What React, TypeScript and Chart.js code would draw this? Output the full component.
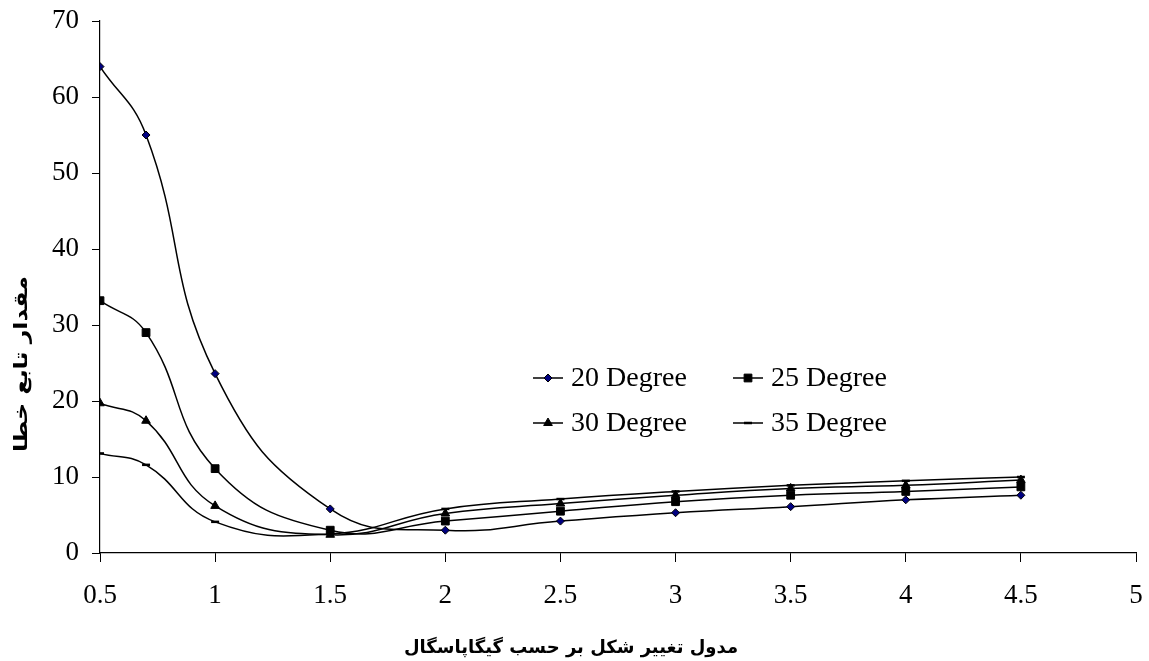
import React, { useEffect, useRef } from "react";
import { Chart, registerables } from "chart.js";

Chart.register(...registerables);

const xValues = [0.5, 0.7, 1, 1.5, 2, 2.5, 3, 3.5, 4, 4.5];
const deg20 = [64, 55, 23.6, 5.8, 3.0, 4.2, 5.3, 6.1, 7.0, 7.6];
const deg25 = [33.2, 29.0, 11.1, 3.0, 4.2, 5.5, 6.75, 7.6, 8.1, 8.7];
const deg30 = [19.7, 17.4, 6.2, 2.4, 5.2, 6.5, 7.6, 8.5, 8.9, 9.6];
const deg35 = [13.1, 11.6, 4.1, 2.5, 5.8, 7.1, 8.1, 8.9, 9.5, 10.0];
const seriesLabels = ["20 Degree", "25 Degree", "30 Degree", "35 Degree"];
const xTitle = "مدول تغییر شکل بر حسب گیگاپاسگال";
const yTitle = "مقدار تابع خطا";

const W = 1149;
const H = 661;
const SERIF = "'Liberation Serif', 'Times New Roman', serif";
const ARABIC = "'DejaVu Sans', sans-serif";

const pointStyles: any[] = ["rectRot", "rect", "triangle", "line"];
const pointColors = ["#000080", "#000000", "#000000", "#000000"];
const pointRadii = [4, 5.5, 5, 4];
const pointBorders = [1, 1, 1, 2.5];

function toPts(ys: number[]) {
  return xValues.map((x, i) => ({ x, y: ys[i] }));
}

function drawMarker(ctx: any, style: string, r: number, x: number, y: number, bw: number, fill: string) {
  ctx.save();
  ctx.fillStyle = fill;
  ctx.strokeStyle = "#000";
  ctx.lineWidth = bw;
  ctx.beginPath();
  if (style === "rectRot") {
    ctx.moveTo(x - r, y);
    ctx.lineTo(x, y - r);
    ctx.lineTo(x + r, y);
    ctx.lineTo(x, y + r);
    ctx.closePath();
    ctx.fill();
    ctx.stroke();
  } else if (style === "rect") {
    const s = Math.SQRT1_2 * r;
    ctx.rect(x - s, y - s, 2 * s, 2 * s);
    ctx.fill();
    ctx.stroke();
  } else if (style === "triangle") {
    const half = (r * Math.sqrt(3)) / 2;
    ctx.moveTo(x, y - r);
    ctx.lineTo(x + half, y + r / 2);
    ctx.lineTo(x - half, y + r / 2);
    ctx.closePath();
    ctx.fill();
    ctx.stroke();
  } else {
    ctx.moveTo(x - r, y);
    ctx.lineTo(x + r, y);
    ctx.stroke();
  }
  ctx.restore();
}

const overlayPlugin = {
  id: "overlay",
  afterDraw(chart: any) {
    const ctx = chart.ctx;
    ctx.save();
    ctx.fillStyle = "#000";
    ctx.textAlign = "center";
    ctx.textBaseline = "middle";
    ctx.direction = "rtl";
    ctx.font = `bold 18px ${ARABIC}`;
    ctx.fillText(xTitle, 571, 648);
    ctx.save();
    ctx.translate(22, 364);
    ctx.rotate(-Math.PI / 2);
    ctx.scale(1.25, 1);
    ctx.font = `bold 19px ${ARABIC}`;
    ctx.fillText(yTitle, 0, 0);
    ctx.restore();
    ctx.direction = "ltr";

    const cols = [533, 733];
    const rows = [378, 423];
    ctx.font = `28px ${SERIF}`;
    ctx.textAlign = "left";
    ctx.textBaseline = "middle";
    chart.data.datasets.forEach((ds: any, i: number) => {
      const lx = cols[i % 2];
      const ly = rows[Math.floor(i / 2)];
      ctx.strokeStyle = "#000";
      ctx.lineWidth = 1.5;
      ctx.beginPath();
      ctx.moveTo(lx, ly);
      ctx.lineTo(lx + 30, ly);
      ctx.stroke();
      drawMarker(ctx, pointStyles[i], pointRadii[i], lx + 15, ly, pointBorders[i], pointColors[i]);
      ctx.fillStyle = "#000";
      ctx.fillText(ds.label, lx + 38, ly + 1);
    });
    ctx.restore();
  },
};

const fmt = (v: any) => String(Number(Number(v).toFixed(1)));

export default function App() {
  const ref = useRef<HTMLCanvasElement | null>(null);
  useEffect(() => {
    if (!ref.current) return;
    const all = [deg20, deg25, deg30, deg35];
    const chart = new Chart(ref.current, {
      type: "line",
      data: {
        datasets: all.map((ys, i) => ({
          label: seriesLabels[i],
          data: toPts(ys),
          borderColor: "#000",
          borderWidth: 1.5,
          backgroundColor: pointColors[i],
          pointBackgroundColor: pointColors[i],
          pointBorderColor: "#000",
          pointBorderWidth: pointBorders[i],
          pointStyle: pointStyles[i],
          pointRadius: pointRadii[i],
          tension: 0.45,
          fill: false,
        })),
      },
      plugins: [overlayPlugin],
      options: {
        responsive: false,
        animation: false,
        events: [],
        layout: { padding: { top: 21, right: 13, left: 0, bottom: 0 } },
        plugins: {
          legend: { display: false },
          tooltip: { enabled: false },
          title: { display: false },
        },
        scales: {
          x: {
            type: "linear",
            min: 0.5,
            max: 5,
            afterFit: (s: any) => {
              s.height = H - 553;
              s.paddingLeft = 0;
              s.paddingRight = 0;
            },
            ticks: {
              stepSize: 0.5,
              color: "#000",
              font: { family: SERIF, size: 27 },
              padding: 18,
              maxRotation: 0,
              autoSkip: false,
              callback: fmt,
            },
            grid: {
              drawOnChartArea: false,
              drawTicks: true,
              tickLength: 9,
              color: "#000",
            },
            border: { color: "#000", width: 1.2 },
          },
          y: {
            type: "linear",
            min: 0,
            max: 70,
            afterFit: (s: any) => {
              s.width = 100;
              s.paddingTop = 0;
              s.paddingBottom = 0;
            },
            ticks: {
              stepSize: 10,
              color: "#000",
              font: { family: SERIF, size: 27 },
              padding: 13,
              callback: fmt,
            },
            grid: {
              drawOnChartArea: false,
              drawTicks: true,
              tickLength: 8,
              color: "#000",
            },
            border: { color: "#000", width: 1.2 },
          },
        },
      },
    } as any);
    return () => chart.destroy();
  }, []);
  return (
    <div style={{ position: "absolute", left: 0, top: 0, width: W, height: H, background: "#fff" }}>
      <canvas ref={ref} width={W} height={H} style={{ width: W, height: H, display: "block" }} />
    </div>
  );
}
